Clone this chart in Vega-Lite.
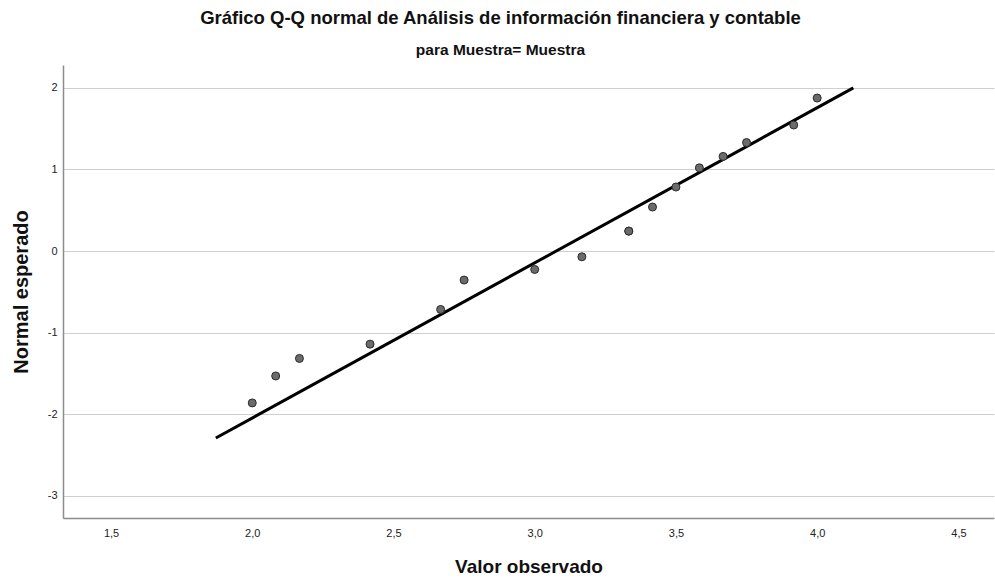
{
  "$schema": "https://vega.github.io/schema/vega-lite/v6.json",
  "autosize": "none",
  "width": 931,
  "height": 453,
  "padding": {"left": 63, "top": 65, "right": 1, "bottom": 63},
  "background": "white",
  "config": {
    "font": "Liberation Sans",
    "view": {"stroke": null},
    "axis": {"labelFont": "Liberation Sans", "titleFont": "Liberation Sans"}
  },
  "title": {
    "text": "Gráfico Q-Q normal de Análisis de información financiera y contable",
    "subtitle": "para Muestra= Muestra",
    "anchor": "middle",
    "frame": "group",
    "dx": -28,
    "fontSize": 18.5,
    "fontWeight": "bold",
    "color": "#111111",
    "subtitleFontSize": 15.5,
    "subtitleFontWeight": "bold",
    "subtitleColor": "#111111",
    "subtitlePadding": 15,
    "offset": 7
  },
  "datasets": {
    "pts": [
      {"observado": 2.0, "esperado": -1.86},
      {"observado": 2.083, "esperado": -1.53},
      {"observado": 2.167, "esperado": -1.315},
      {"observado": 2.417, "esperado": -1.14},
      {"observado": 2.667, "esperado": -0.715},
      {"observado": 2.75, "esperado": -0.355},
      {"observado": 3.0, "esperado": -0.225},
      {"observado": 3.167, "esperado": -0.07},
      {"observado": 3.333, "esperado": 0.245},
      {"observado": 3.333, "esperado": 0.245},
      {"observado": 3.417, "esperado": 0.54},
      {"observado": 3.5, "esperado": 0.785},
      {"observado": 3.583, "esperado": 1.02},
      {"observado": 3.667, "esperado": 1.16},
      {"observado": 3.75, "esperado": 1.33},
      {"observado": 3.917, "esperado": 1.545},
      {"observado": 4.0, "esperado": 1.875}
    ],
    "linea": [
      {"observado": 1.871, "esperado": -2.29},
      {"observado": 4.128, "esperado": 2.0}
    ]
  },
  "layer": [
    {
      "data": {"name": "linea"},
      "mark": {"type": "line", "color": "#000000", "strokeWidth": 3, "clip": true},
      "encoding": {
        "x": {
          "field": "observado",
          "type": "quantitative",
          "scale": {"domain": [1.33, 4.626], "nice": false, "zero": false},
          "axis": {
            "title": "Valor observado",
            "values": [1.5, 2.0, 2.5, 3.0, 3.5, 4.0, 4.5],
            "labelExpr": "replace(format(datum.value, '.1f'), '.', ',')",
            "grid": false,
            "ticks": false,
            "domainColor": "#8c8c8c",
            "domainWidth": 1.5,
            "labelFontSize": 11,
            "labelColor": "#222222",
            "labelPadding": 9,
            "titleFontSize": 19,
            "titleFontWeight": "bold",
            "titleColor": "#111111",
            "titlePadding": 19
          }
        },
        "y": {
          "field": "esperado",
          "type": "quantitative",
          "scale": {"domain": [-3.27, 2.28], "nice": false, "zero": false},
          "axis": {
            "title": "Normal esperado",
            "values": [-3, -2, -1, 0, 1, 2],
            "labelExpr": "replace(format(datum.value, 'd'), '\u2212', '-')",
            "grid": true,
            "gridColor": "#cfcfcf",
            "gridWidth": 1.2,
            "ticks": false,
            "domainColor": "#8c8c8c",
            "domainWidth": 1.5,
            "labelFontSize": 11,
            "labelColor": "#222222",
            "labelPadding": 6,
            "titleFontSize": 20,
            "titleFontWeight": "bold",
            "titleColor": "#111111",
            "titlePadding": 16
          }
        }
      }
    },
    {
      "data": {"name": "pts"},
      "mark": {"type": "point", "filled": true, "fill": "#6b6b6b", "stroke": "#2a2a2a", "strokeWidth": 1, "size": 64, "opacity": 1, "fillOpacity": 1},
      "encoding": {
        "x": {"field": "observado", "type": "quantitative"},
        "y": {"field": "esperado", "type": "quantitative"}
      }
    }
  ]
}
